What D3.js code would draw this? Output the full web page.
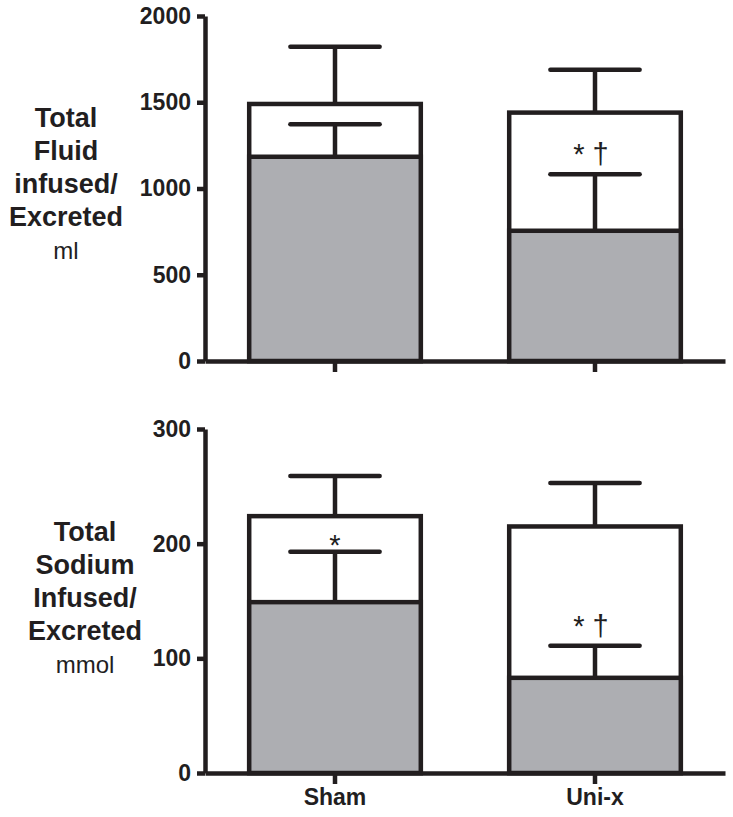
<!DOCTYPE html>
<html>
<head>
<meta charset="utf-8">
<script src="https://cdn.jsdelivr.net/npm/d3@7"></script>
<style>
  html, body { margin: 0; padding: 0; background: #fff; }
  svg { display: block; }
</style>
</head>
<body>
<svg id="chart" width="733" height="817"></svg>
<script>
// ---------------- data ----------------
const groups = ["Sham", "Uni-x"];

// Panel 1: total fluid (ml)
const fluidInfused      = [1490, 1440];
const fluidInfusedSD    = [332, 248];
const fluidExcreted     = [1184, 755];
const fluidExcretedSD   = [188, 327];
const fluidTicks        = [0, 500, 1000, 1500, 2000];
const fluidMarks        = ["", "* †"];      // annotation over excreted bar

// Panel 2: total sodium (mmol)
const sodiumInfused     = [224, 215];
const sodiumInfusedSD   = [35, 38];
const sodiumExcreted    = [149, 83];
const sodiumExcretedSD  = [44, 28];
const sodiumTicks       = [0, 100, 200, 300];
const sodiumMarks       = ["*", "* †"];

const fluidTitle  = ["Total", "Fluid", "infused/", "Excreted"];
const fluidUnit   = "ml";
const sodiumTitle = ["Total", "Sodium", "Infused/", "Excreted"];
const sodiumUnit  = "mmol";

// ---------------- drawing ----------------
const svg = d3.select("#chart");
const INK = "#221e1f";
const GRAY = "#adaeb2";
const SW = 4.5;
const FONT = "'Liberation Sans', Arial, Helvetica, sans-serif";

const x = d3.scaleBand()
  .domain(groups)
  .range([205, 725])
  .paddingInner(0.34)
  .paddingOuter(0.17);

function panel(opts) {
  const { y0, y1, max, ticks, infused, infusedSD, excreted, excretedSD,
          marks, title, unit, titleX, titleY, showLabels } = opts;
  const y = d3.scaleLinear().domain([0, max]).range([y0, y1]);
  const g = svg.append("g");

  const bw = x.bandwidth();
  g.selectAll(".inf").data(groups).join("rect")
    .attr("x", d => x(d)).attr("width", bw)
    .attr("y", (d, i) => y(infused[i]))
    .attr("height", (d, i) => y(0) - y(infused[i]))
    .attr("fill", "#fff").attr("stroke", INK).attr("stroke-width", SW);
  g.selectAll(".exc").data(groups).join("rect")
    .attr("x", d => x(d)).attr("width", bw)
    .attr("y", (d, i) => y(excreted[i]))
    .attr("height", (d, i) => y(0) - y(excreted[i]))
    .attr("fill", GRAY).attr("stroke", INK).attr("stroke-width", SW);

  const capHalf = bw * 0.26;
  function errs(vals, sds) {
    groups.forEach((d, i) => {
      const cx = x(d) + bw / 2;
      g.append("line")
        .attr("x1", cx).attr("x2", cx)
        .attr("y1", y(vals[i])).attr("y2", y(vals[i] + sds[i]))
        .attr("stroke", INK).attr("stroke-width", SW);
      g.append("line")
        .attr("x1", cx - capHalf).attr("x2", cx + capHalf)
        .attr("y1", y(vals[i] + sds[i])).attr("y2", y(vals[i] + sds[i]))
        .attr("stroke", INK).attr("stroke-width", SW)
        .attr("stroke-linecap", "round");
    });
  }
  errs(infused, infusedSD);
  errs(excreted, excretedSD);

  groups.forEach((d, i) => {
    const m = marks[i];
    if (!m) return;
    const cx = x(d) + bw / 2;
    const capY = y(excreted[i] + excretedSD[i]);
    const dagger = m.indexOf("†") >= 0;
    g.append("text")
      .attr("x", dagger ? cx - 4 : cx)
      .attr("y", dagger ? capY - 10 : capY + 3)
      .attr("text-anchor", "middle")
      .attr("font-family", FONT)
      .attr("font-size", 29)
      .attr("fill", INK)
      .attr("xml:space", "preserve")
      .text(m);
  });

  const ya = g.append("g").attr("transform", "translate(205,0)")
    .call(d3.axisLeft(y).tickValues(ticks).tickFormat(d3.format("d"))
      .tickSize(8).tickSizeOuter(0).tickPadding(6));
  ya.select(".domain").attr("stroke", INK).attr("stroke-width", SW);
  ya.selectAll(".tick line").attr("stroke", INK).attr("stroke-width", SW);
  ya.selectAll(".tick text")
    .attr("font-family", FONT).attr("font-weight", "bold")
    .attr("font-size", 23).attr("fill", INK);

  const xa = g.append("g").attr("transform", `translate(0,${y0})`)
    .call(d3.axisBottom(x).tickSize(11).tickSizeOuter(0).tickPadding(5));
  xa.select(".domain").attr("stroke", INK).attr("stroke-width", SW);
  xa.selectAll(".tick line").attr("stroke", INK).attr("stroke-width", SW);
  xa.selectAll(".tick text")
    .attr("font-family", FONT).attr("font-weight", "bold")
    .attr("font-size", 23).attr("fill", INK)
    .style("display", showLabels ? null : "none");

  const t = g.append("text")
    .attr("text-anchor", "middle")
    .attr("font-family", FONT).attr("fill", INK);
  title.forEach((line, k) => {
    t.append("tspan").attr("x", titleX).attr("y", titleY + k * 33)
      .attr("font-weight", "bold").attr("font-size", 27).text(line);
  });
  t.append("tspan").attr("x", titleX).attr("y", titleY + title.length * 33)
    .attr("font-size", 24).text(unit);
}

panel({
  y0: 361, y1: 16, max: 2000, ticks: fluidTicks,
  infused: fluidInfused, infusedSD: fluidInfusedSD,
  excreted: fluidExcreted, excretedSD: fluidExcretedSD,
  marks: fluidMarks, title: fluidTitle, unit: fluidUnit,
  titleX: 66, titleY: 127, showLabels: false
});

panel({
  y0: 773, y1: 429, max: 300, ticks: sodiumTicks,
  infused: sodiumInfused, infusedSD: sodiumInfusedSD,
  excreted: sodiumExcreted, excretedSD: sodiumExcretedSD,
  marks: sodiumMarks, title: sodiumTitle, unit: sodiumUnit,
  titleX: 85, titleY: 541, showLabels: true
});
</script>
</body>
</html>
